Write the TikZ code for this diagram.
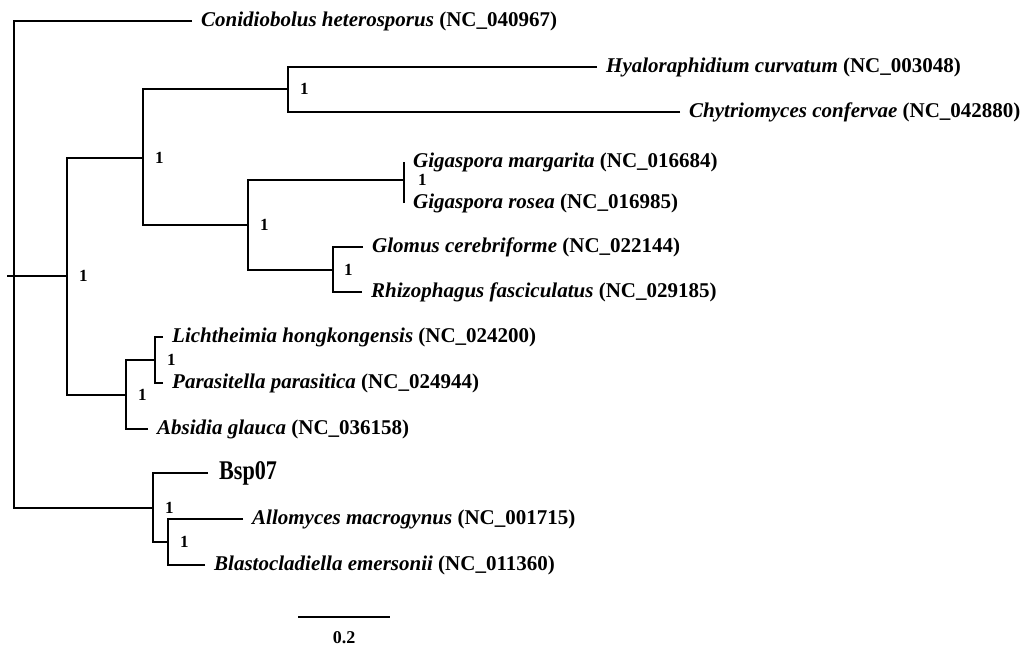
\documentclass[tikz,border=0pt]{standalone}
\usepackage{fontspec}
\setmainfont{Liberation Serif}
\begin{document}
\begin{tikzpicture}[x=1pt,y=-1pt,
  br/.style={line width=2pt,line join=miter},
  leaf/.style={anchor=west,inner xsep=9pt,inner ysep=0pt,font=\fontsize{21}{21}\selectfont\bfseries},
  bs/.style={anchor=west,inner sep=0pt,xshift=12pt,font=\fontsize{17}{17}\selectfont\bfseries}]
\useasboundingbox (0,0) rectangle (1027,648);
% internal nodes
\coordinate (stub) at (7,276);
\coordinate (root) at (14,276);
\coordinate (n1) at (67,276);
\coordinate (n2) at (143,158);
\coordinate (n3) at (288,89);
\coordinate (n4) at (248,225);
\coordinate (n5) at (404,180);
\coordinate (n6) at (333,270);
\coordinate (n7) at (126,395);
\coordinate (n8) at (155,360);
\coordinate (n9) at (153,508);
\coordinate (n10) at (168,542);
% leaves
\node[leaf] (con) at (192,21) {\itshape Conidiobolus heterosporus\upshape\ (NC\_040967)};
\node[leaf] (hya) at (597,67) {\itshape Hyaloraphidium curvatum\upshape\ (NC\_003048)};
\node[leaf] (chy) at (680,112) {\itshape Chytriomyces confervae\upshape\ (NC\_042880)};
\node[leaf] (gma) at (404,162) {\itshape Gigaspora margarita\upshape\ (NC\_016684)};
\node[leaf] (gro) at (404,203) {\itshape Gigaspora rosea\upshape\ (NC\_016985)};
\node[leaf] (glo) at (363,247) {\itshape Glomus cerebriforme\upshape\ (NC\_022144)};
\node[leaf] (rhi) at (362,292) {\itshape Rhizophagus fasciculatus\upshape\ (NC\_029185)};
\node[leaf] (lic) at (163,337) {\itshape Lichtheimia hongkongensis\upshape\ (NC\_024200)};
\node[leaf] (par) at (163,383) {\itshape Parasitella parasitica\upshape\ (NC\_024944)};
\node[leaf] (abs) at (148,429) {\itshape Absidia glauca\upshape\ (NC\_036158)};
\node[leaf,inner xsep=11pt,font=\fontsize{27}{27}\selectfont\bfseries] (bsp) at (208,473) {\scalebox{0.82}[1]{Bsp07}};
\node[leaf] (all) at (243,519) {\itshape Allomyces macrogynus\upshape\ (NC\_001715)};
\node[leaf] (bla) at (205,565) {\itshape Blastocladiella emersonii\upshape\ (NC\_011360)};
% branches
\draw[br] (stub) -- (root);
\draw[br] (con.west) -| (root);
\draw[br] (n9) -| (root);
\draw[br] (n1) -- (root);
\draw[br] (n2) -| (n1);
\draw[br] (n7) -| (n1);
\draw[br] (n3) -| (n2);
\draw[br] (n4) -| (n2);
\draw[br] (hya.west) -| (n3);
\draw[br] (chy.west) -| (n3);
\draw[br] (n5) -| (n4);
\draw[br] (n6) -| (n4);
\draw[br] (gma.west) -| (n5);
\draw[br] (gro.west) -| (n5);
\draw[br] (glo.west) -| (n6);
\draw[br] (rhi.west) -| (n6);
\draw[br] (n8) -| (n7);
\draw[br] (abs.west) -| (n7);
\draw[br] (lic.west) -| (n8);
\draw[br] (par.west) -| (n8);
\draw[br] (bsp.west) -| (n9);
\draw[br] (n10) -| (n9);
\draw[br] (all.west) -| (n10);
\draw[br] (bla.west) -| (n10);
% support values
\node[bs] (s1) at (n1) {1};
\node[bs] (s2) at (n2) {1};
\node[bs] (s3) at (n3) {1};
\node[bs] (s4) at (n4) {1};
\node[bs,xshift=2pt] (s5) at (n5) {1};
\node[bs,xshift=-1pt] (s6) at (n6) {1};
\node[bs] (s7) at (n7) {1};
\node[bs] (s8) at (n8) {1};
\node[bs] (s9) at (n9) {1};
\node[bs] (s10) at (n10) {1};
% scale bar
\coordinate (sbl) at (298,617);
\coordinate (sbr) at (390,617);
\draw[br] (sbl) -- (sbr);
\node[font=\fontsize{18}{18}\selectfont\bfseries] (sbt) at (344,638) {0.2};
\end{tikzpicture}
\end{document}
